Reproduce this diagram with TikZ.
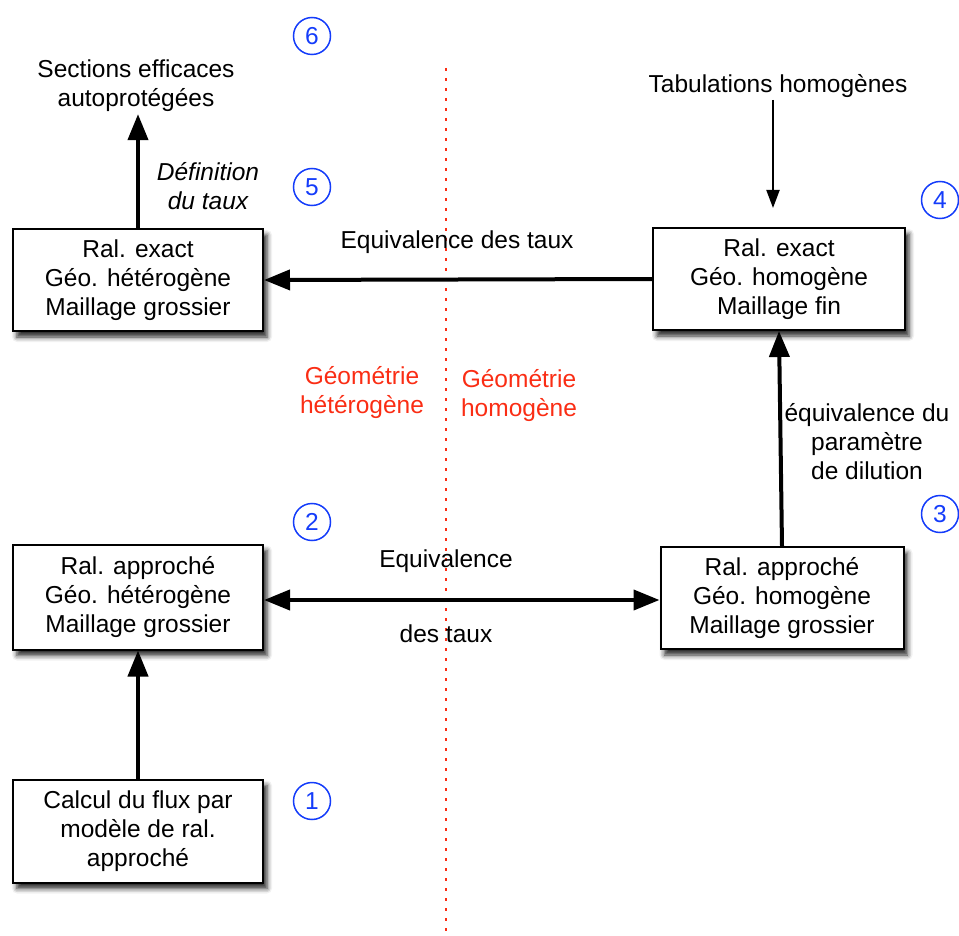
\documentclass[tikz,border=0pt]{standalone}
\usepackage{fontspec}
\setmainfont{Liberation Sans}
\usetikzlibrary{arrows.meta,shadows,shadows.blur,calc}
\definecolor{redtxt}{RGB}{250,45,20}
\definecolor{bluecirc}{RGB}{20,60,250}
\begin{document}
\begin{tikzpicture}[x=1pt,y=-1pt,
  every node/.style={font=\fontsize{24.5}{29}\selectfont, align=center, inner sep=2pt},
  box/.style={draw=black, line width=2pt, fill=white, minimum width=250pt, minimum height=102pt,
    blur shadow={shadow xshift=4pt, shadow yshift=-6pt, shadow blur radius=5pt, shadow opacity=85}},
  bigtip/.style={-{Triangle[length=26pt,width=20pt]}},
  bigarrow/.style={line width=4pt, bigtip},
  numc/.style={draw=bluecirc, text=bluecirc, circle, line width=1.5pt, minimum size=37pt, inner sep=0pt},
  redlab/.style={text=redtxt},
  sepline/.style={draw=redtxt, line width=1.8pt, dash pattern=on 3pt off 7pt}
]
\useasboundingbox (0,0) rectangle (959,936);

\coordinate (sepT) at (446,68);
\coordinate (sepB) at (446,936);
\draw[sepline] (sepT) -- (sepB);

\node[box] (a) at (138,280) {Ral. exact\\Géo. hétérogène\\Maillage grossier};
\node[box, minimum width=252pt] (b) at (779,279) {Ral. exact\\Géo. homogène\\Maillage fin};
\node[box, minimum height=105pt] (c) at (138,597) {Ral. approché\\Géo. hétérogène\\Maillage grossier};
\node[box, minimum width=243pt] (d) at (782,598) {Ral. approché\\Géo. homogène\\Maillage grossier};
\node[box, minimum height=103pt] (e) at (138,831) {Calcul du flux par\\modèle de ral.\\approché};

\node (sec) at (136,86) {Sections efficaces\\autoprotégées};
\node[font=\fontsize{24.5}{29}\selectfont\itshape] (def) at (208,186) {Définition\\du taux};
\node (eqt) at (457,242) {Equivalence des taux};
\node (tab) at (778,86) {Tabulations homogènes};
\coordinate (tabend) at (773,208);
\node (dil) at (867,442) {équivalence du\\paramètre\\de dilution};
\node (eq1) at (446,561) {Equivalence};
\node (eq2) at (446,634) {des taux};
\node[redlab] (ghet) at (362,393) {Géométrie\\hétérogène};
\node[redlab] (ghom) at (519,396) {Géométrie\\homogène};

\node[numc] (n6) at (312,36) {6};
\node[numc] (n5) at (312,187) {5};
\node[numc] (n4) at (940,200) {4};
\node[numc] (n3) at (940,514) {3};
\node[numc] (n2) at (312,522) {2};
\node[numc] (n1) at (312,801) {1};

\draw[bigarrow] (a.north) -- (sec.south -| a.north);
\draw[bigarrow] (b.west) -- (a.east);
\draw[line width=2pt, -{Triangle[length=18pt,width=13pt]}] (tab.south -| tabend) -- (tabend);
\draw[bigarrow] (d.north) -- (b.south);
\draw[line width=4pt, {Triangle[length=26pt,width=20pt]}-{Triangle[length=26pt,width=20pt]}] (c.east |- 0,600) -- (d.west |- 0,600);
\draw[bigarrow] (e.north) -- (c.south);
\end{tikzpicture}
\end{document}
